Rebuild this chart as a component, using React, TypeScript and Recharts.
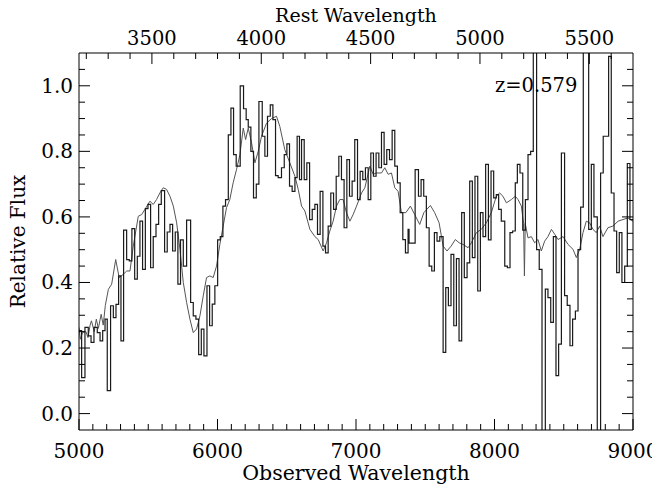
import React from "react";
import { Label, Line, LineChart, XAxis, YAxis } from "recharts";

// observed spectrum, binned (bin start wavelength -> flux)
const stepWave = [
  5000, 5019, 5043, 5067, 5087, 5108, 5132, 5152, 5171, 5188, 5204, 5228, 5248, 5267, 5286, 5303,
  5322, 5344, 5363, 5382, 5402, 5421, 5440, 5459, 5479, 5498, 5517, 5536, 5556, 5575, 5594, 5618,
  5637, 5657, 5676, 5695, 5714, 5733, 5753, 5777, 5806, 5825, 5844, 5864, 5883, 5902, 5924, 5943,
  5962, 5981, 6001, 6020, 6039, 6058, 6078, 6097, 6116, 6135, 6164, 6188, 6207, 6222, 6241, 6260,
  6280, 6299, 6323, 6342, 6361, 6381, 6400, 6419, 6438, 6462, 6482, 6501, 6520, 6539, 6559, 6575,
  6592, 6607, 6626, 6645, 6665, 6684, 6703, 6722, 6741, 6761, 6780, 6799, 6818, 6838, 6857, 6876,
  6895, 6914, 6934, 6953, 6972, 6991, 7011, 7030, 7049, 7068, 7088, 7107, 7126, 7145, 7165, 7184,
  7203, 7222, 7242, 7261, 7280, 7299, 7319, 7338, 7357, 7376, 7383, 7405, 7427, 7451, 7470, 7489,
  7508, 7528, 7547, 7566, 7585, 7605, 7629, 7648, 7667, 7686, 7706, 7725, 7744, 7763, 7782, 7802,
  7821, 7840, 7859, 7879, 7898, 7917, 7936, 7956, 7975, 7994, 8013, 8030, 8049, 8074, 8093, 8112,
  8131, 8150, 8165, 8184, 8204, 8223, 8242, 8261, 8280, 8304, 8323, 8343, 8367, 8386, 8406, 8425,
  8444, 8463, 8483, 8506, 8525, 8545, 8564, 8584, 8603, 8622, 8641, 8660, 8680, 8699, 8718, 8742,
  8766, 8785, 8805, 8824, 8843, 8863, 8882, 8901, 8920, 8940, 8959, 8978, 9000,
];
const stepFlux = [
  0.253, 0.11, 0.263, 0.237, 0.217, 0.263, 0.247, 0.222, 0.253, 0.288, 0.07, 0.329, 0.293, 0.333, 0.42, 0.222,
  0.56, 0.47, 0.466, 0.564, 0.41, 0.48, 0.587, 0.44, 0.625, 0.638, 0.445, 0.54, 0.577, 0.638, 0.68, 0.493,
  0.554, 0.577, 0.496, 0.554, 0.395, 0.53, 0.45, 0.59, 0.339, 0.298, 0.288, 0.18, 0.258, 0.176, 0.39, 0.268,
  0.334, 0.39, 0.53, 0.54, 0.633, 0.653, 0.85, 0.932, 0.79, 0.755, 1.0, 0.93, 0.897, 0.874, 0.8, 0.658,
  0.7, 0.952, 0.846, 0.785, 0.907, 0.942, 0.897, 0.726, 0.72, 0.75, 0.79, 0.823, 0.694, 0.678, 0.72, 0.846,
  0.714, 0.836, 0.714, 0.765, 0.592, 0.623, 0.638, 0.547, 0.678, 0.511, 0.49, 0.572, 0.673, 0.623, 0.724, 0.785,
  0.714, 0.567, 0.775, 0.663, 0.709, 0.836, 0.653, 0.739, 0.714, 0.75, 0.653, 0.795, 0.724, 0.795, 0.75, 0.858,
  0.76, 0.805, 0.775, 0.864, 0.755, 0.704, 0.613, 0.531, 0.49, 0.562, 0.52, 0.52, 0.744, 0.663, 0.714, 0.663,
  0.567, 0.45, 0.435, 0.552, 0.526, 0.54, 0.187, 0.384, 0.329, 0.486, 0.268, 0.473, 0.222, 0.613, 0.415, 0.46,
  0.709, 0.476, 0.724, 0.374, 0.613, 0.54, 0.76, 0.53, 0.74, 0.658, 0.668, 0.623, 0.587, 0.45, 0.445, 0.552,
  0.557, 0.704, 0.76, 0.734, 0.56, 0.653, 0.79, 0.8, 1.35, 0.5, 0.44, -0.35, 0.38, 0.354, 0.278, 0.54,
  0.116, 0.212, 0.795, 0.36, 0.33, 0.207, 0.288, 0.313, 0.5, 0.63, 1.35, 1.35, 0.562, 0.76, 0.6, -0.35,
  0.734, 0.846, 0.846, 1.09, 0.673, 0.557, 0.43, 0.552, 0.4, 0.45, 0.763, 0.592, 0.592,
];

// smooth template spectrum
const tmplWave = [
  5000, 5010, 5025, 5050, 5065, 5080, 5090, 5110, 5125, 5140, 5160, 5175, 5190, 5212, 5236, 5265,
  5290, 5320, 5344, 5368, 5392, 5428, 5452, 5476, 5512, 5536, 5560, 5584, 5608, 5632, 5657, 5681,
  5705, 5729, 5753, 5777, 5801, 5825, 5849, 5873, 5897, 5921, 5945, 5969, 5993, 6017, 6041, 6065,
  6089, 6113, 6137, 6162, 6186, 6203, 6222, 6246, 6270, 6294, 6318, 6354, 6390, 6426, 6450, 6486,
  6522, 6559, 6583, 6607, 6631, 6667, 6703, 6727, 6763, 6787, 6811, 6835, 6859, 6883, 6907, 6931,
  6956, 6980, 7004, 7040, 7064, 7100, 7124, 7148, 7184, 7208, 7232, 7256, 7280, 7304, 7328, 7360,
  7393, 7424, 7460, 7490, 7537, 7568, 7600, 7629, 7657, 7687, 7717, 7745, 7773, 7809, 7833, 7869,
  7905, 7941, 7977, 8013, 8037, 8061, 8086, 8122, 8150, 8170, 8194, 8210, 8216, 8222, 8242, 8266,
  8290, 8314, 8338, 8362, 8386, 8411, 8435, 8459, 8495, 8531, 8567, 8591, 8615, 8639, 8663, 8687,
  8711, 8735, 8759, 8783, 8819, 8855, 8892, 8928, 8964, 9000,
];
const tmplFlux = [
  0.263, 0.227, 0.247, 0.25, 0.232, 0.27, 0.283, 0.25, 0.288, 0.26, 0.303, 0.27, 0.33, 0.379, 0.395, 0.47,
  0.415, 0.425, 0.435, 0.435, 0.511, 0.602, 0.607, 0.623, 0.648, 0.638, 0.653, 0.673, 0.689, 0.684, 0.663, 0.633,
  0.582, 0.501, 0.4, 0.339, 0.288, 0.247, 0.258, 0.298, 0.359, 0.415, 0.42, 0.415, 0.45, 0.516, 0.572, 0.628,
  0.653, 0.704, 0.744, 0.79, 0.871, 0.836, 0.871, 0.826, 0.765, 0.8, 0.846, 0.886, 0.9, 0.907, 0.876, 0.805,
  0.765, 0.724, 0.684, 0.633, 0.618, 0.562, 0.54, 0.531, 0.496, 0.521, 0.557, 0.587, 0.633, 0.653, 0.653, 0.613,
  0.587, 0.608, 0.633, 0.673, 0.689, 0.755, 0.73, 0.734, 0.734, 0.75, 0.73, 0.734, 0.689, 0.678, 0.613, 0.613,
  0.633, 0.607, 0.577, 0.613, 0.635, 0.613, 0.582, 0.511, 0.496, 0.511, 0.531, 0.521, 0.516, 0.506, 0.521, 0.552,
  0.562, 0.582, 0.613, 0.663, 0.673, 0.663, 0.643, 0.653, 0.663, 0.653, 0.633, 0.58, 0.42, 0.58, 0.536, 0.54,
  0.521, 0.531, 0.496, 0.526, 0.54, 0.562, 0.547, 0.531, 0.54, 0.516, 0.501, 0.476, 0.501, 0.552, 0.587, 0.582,
  0.562, 0.552, 0.572, 0.54, 0.567, 0.572, 0.587, 0.592, 0.597, 0.587,
];

const redshift = 0.579;
const obsMajor = [5000, 6000, 7000, 8000, 9000];
const obsTicks = [
  5000, 5100, 5200, 5300, 5400, 5500, 5600, 5700, 5800, 5900, 6000, 6100, 6200, 6300, 6400, 6500, 6600,
  6700, 6800, 6900, 7000, 7100, 7200, 7300, 7400, 7500, 7600, 7700, 7800, 7900, 8000, 8100, 8200, 8300,
  8400, 8500, 8600, 8700, 8800, 8900, 9000,
];
const restMajor = [3500, 4000, 4500, 5000, 5500];
const restTicks = [
  3200, 3300, 3400, 3500, 3600, 3700, 3800, 3900, 4000, 4100, 4200, 4300, 4400, 4500, 4600, 4700, 4800,
  4900, 5000, 5100, 5200, 5300, 5400, 5500, 5600,
];
const fluxMajor = [0, 0.2, 0.4, 0.6, 0.8, 1.0];
const fluxTicks = [
  0, 0.05, 0.1, 0.15, 0.2, 0.25, 0.3, 0.35, 0.4, 0.45, 0.5, 0.55, 0.6, 0.65, 0.7, 0.75, 0.8, 0.85, 0.9,
  0.95, 1.0, 1.05,
];

const stepData = stepWave.map((w, i) => ({ wave: w, flux: stepFlux[i] }));
const tmplData = tmplWave.map((w, i) => ({ wave: w, flux: tmplFlux[i] }));

// the chart fills the whole page (body margin cancelled), so chart px == page px
const W = 660;
const H = 493;
const PLOT_TOP = 53;
const PLOT_BOTTOM = 430;
const PLOT_LEFT = 79;
const PLOT_RIGHT = 633;

const FONT = "'DejaVu Serif', serif";
const TICK_FONT = 20;
const MAJOR_LEN = 11;
const MINOR_LEN = 6;

const near = (list: number[], v: number) => list.some((m) => Math.abs(m - v) < 1e-6);

function BottomTick({ x, payload }: any) {
  const major = near(obsMajor, payload.value);
  const y = PLOT_BOTTOM;
  return (
    <g>
      <line x1={x} x2={x} y1={y} y2={y - (major ? MAJOR_LEN : MINOR_LEN)} stroke="#000" />
      {major && (
        <text x={x} y={y + 28} textAnchor="middle" fontFamily={FONT} fontSize={TICK_FONT} fill="#000">
          {payload.value}
        </text>
      )}
    </g>
  );
}

function TopTick({ x, payload }: any) {
  const rest = Math.round(payload.value / (1 + redshift));
  const major = restMajor.includes(rest);
  const y = PLOT_TOP;
  return (
    <g>
      <line x1={x} x2={x} y1={y} y2={y + (major ? MAJOR_LEN : MINOR_LEN)} stroke="#000" />
      {major && (
        <text x={x} y={y - 8} textAnchor="middle" fontFamily={FONT} fontSize={19.5} fill="#000">
          {rest}
        </text>
      )}
    </g>
  );
}

function LeftTick({ y, payload }: any) {
  const major = near(fluxMajor, payload.value);
  const x = PLOT_LEFT;
  return (
    <g>
      <line x1={x} x2={x + (major ? MAJOR_LEN : MINOR_LEN)} y1={y} y2={y} stroke="#000" />
      {major && (
        <text x={x - 6} y={y + 7} textAnchor="end" fontFamily={FONT} fontSize={TICK_FONT} fill="#000">
          {payload.value.toFixed(1)}
        </text>
      )}
    </g>
  );
}

function RightTick({ y, payload }: any) {
  const major = near(fluxMajor, payload.value);
  const x = PLOT_RIGHT;
  return <line x1={x} x2={x - (major ? MAJOR_LEN : MINOR_LEN)} y1={y} y2={y} stroke="#000" />;
}

export default function App() {
  return (
    <div style={{ position: "relative", margin: -8, width: W, height: H }}>
      <LineChart width={W} height={H} margin={{ top: 0, right: 0, bottom: 0, left: 0 }}>
        <XAxis
          xAxisId="obs"
          dataKey="wave"
          type="number"
          orientation="bottom"
          domain={[5000, 9000]}
          allowDataOverflow
          ticks={obsTicks}
          interval={0}
          tick={<BottomTick />}
          tickLine={false}
          tickSize={0}
          tickMargin={0}
          height={H - PLOT_BOTTOM}
          axisLine={{ stroke: "#000" }}
        >
          <Label
            content={() => (
              <text
                x={(PLOT_LEFT + PLOT_RIGHT) / 2}
                y={PLOT_BOTTOM + 50}
                textAnchor="middle"
                fontFamily={FONT}
                fontSize={20.5}
                fill="#000"
              >
                Observed Wavelength
              </text>
            )}
          />
        </XAxis>
        <XAxis
          xAxisId="rest"
          dataKey="wave"
          type="number"
          orientation="top"
          domain={[5000, 9000]}
          allowDataOverflow
          ticks={restTicks.map((r) => r * (1 + redshift))}
          interval={0}
          tick={<TopTick />}
          tickLine={false}
          tickSize={0}
          tickMargin={0}
          height={PLOT_TOP}
          axisLine={{ stroke: "#000" }}
        >
          <Label
            content={() => (
              <text
                x={(PLOT_LEFT + PLOT_RIGHT) / 2}
                y={PLOT_TOP - 31}
                textAnchor="middle"
                fontFamily={FONT}
                fontSize={19}
                fill="#000"
              >
                Rest Wavelength
              </text>
            )}
          />
        </XAxis>
        <YAxis
          yAxisId="left"
          type="number"
          orientation="left"
          domain={[-0.05, 1.1]}
          allowDataOverflow
          ticks={fluxTicks}
          interval={0}
          tick={<LeftTick />}
          tickLine={false}
          tickSize={0}
          tickMargin={0}
          width={PLOT_LEFT}
          axisLine={{ stroke: "#000" }}
        >
          <Label
            content={() => {
              const cx = 25;
              const cy = (PLOT_TOP + PLOT_BOTTOM) / 2;
              return (
                <text
                  x={cx}
                  y={cy}
                  transform={`rotate(-90 ${cx} ${cy})`}
                  textAnchor="middle"
                  fontFamily={FONT}
                  fontSize={20}
                  fill="#000"
                >
                  Relative Flux
                </text>
              );
            }}
          />
        </YAxis>
        <YAxis
          yAxisId="right"
          type="number"
          orientation="right"
          domain={[-0.05, 1.1]}
          allowDataOverflow
          ticks={fluxTicks}
          interval={0}
          tick={<RightTick />}
          tickLine={false}
          tickSize={0}
          tickMargin={0}
          width={W - PLOT_RIGHT}
          axisLine={{ stroke: "#000" }}
        />
        <Line
          data={tmplData}
          dataKey="flux"
          xAxisId="obs"
          yAxisId="left"
          type="linear"
          stroke="#555"
          strokeWidth={1}
          dot={false}
          activeDot={false}
          isAnimationActive={false}
        />
        <Line
          data={stepData}
          dataKey="flux"
          xAxisId="obs"
          yAxisId="left"
          type="stepAfter"
          stroke="#1a1a1a"
          strokeWidth={1.2}
          dot={false}
          activeDot={false}
          isAnimationActive={false}
        />
      </LineChart>
      <span
        style={{
          position: "absolute",
          left: 495,
          top: 75,
          fontFamily: FONT,
          fontSize: 19.5,
          lineHeight: "22px",
          color: "#000",
          whiteSpace: "nowrap",
        }}
      >
        z=0.579
      </span>
    </div>
  );
}
